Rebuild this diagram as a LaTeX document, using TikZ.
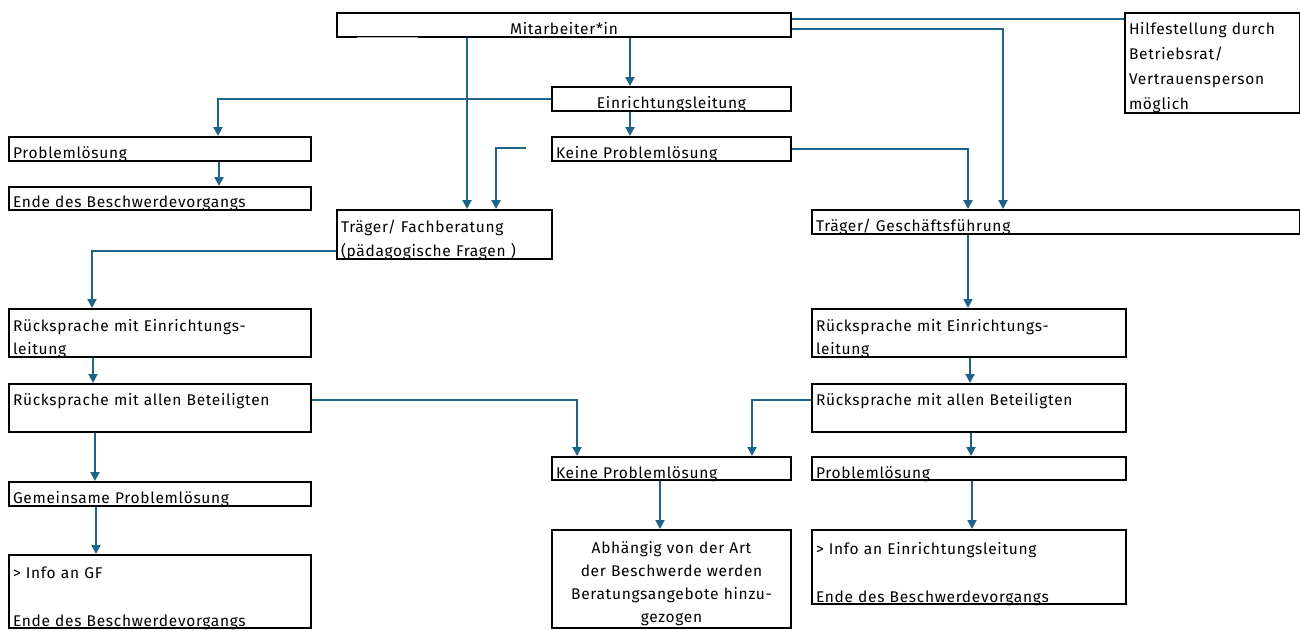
\documentclass[tikz,border=0pt]{standalone}
\usepackage{fontspec}
\usetikzlibrary{arrows.meta,calc}
\newfontfamily\dfont[LetterSpace=4.5]{Fira Sans}
\definecolor{arrowc}{RGB}{30,99,136}
\tikzset{
  bx/.style={draw=black, line width=2pt, fill=white, inner xsep=4pt, inner ysep=0pt,
    anchor=north west, align=left, text height=21pt, text depth=3pt},
  fs/.style={font=\dfont\fontsize{15.5}{#1}\selectfont},
  arr/.style={draw=arrowc, line width=2pt, -{Triangle[width=9pt,length=9pt]}},
  plain/.style={draw=arrowc, line width=2pt},
}
\begin{document}
\begin{tikzpicture}[x=1pt,y=-1pt]
\useasboundingbox (0,0) rectangle (1300,630);
% boxes
\node[bx, fs=24, text width=446pt, align=center, text depth=3pt] (mit) at (336,12) {Mitarbeiter*in};
\node[bx, fs=25, text width=167pt, text depth=79pt] (hilf) at (1124,12) {Hilfestellung durch\\Betriebsrat/\\Vertrauensperson\\möglich};
\node[bx, fs=24, text width=231pt, align=center] (el) at (551,86) {Einrichtungsleitung};
\node[bx, fs=24, text width=294pt] (pl1) at (8,136) {Problemlösung};
\node[bx, fs=24, text width=231pt] (kp1) at (551,136) {Keine Problemlösung};
\node[bx, fs=24, text width=294pt, text height=20pt] (ende1) at (8,186) {Ende des Beschwerdevorgangs};
\node[bx, fs=24, text width=207pt, text height=22pt, text depth=27pt] (tf) at (336,209) {Träger/ Fachberatung\\(pädagogische Fragen )};
\node[bx, fs=24, text width=480pt] (tgf) at (811,209) {Träger/ Geschäftsführung};
\node[bx, fs=23, text width=294pt, text height=22pt, text depth=26pt] (rel1) at (8,308) {Rücksprache mit Einrichtungs-\\leitung};
\node[bx, fs=23, text width=306pt, text height=22pt, text depth=26pt] (rel2) at (811,308) {Rücksprache mit Einrichtungs-\\leitung};
\node[bx, fs=24, text width=294pt, text depth=27pt] (ra1) at (8,383) {Rücksprache mit allen Beteiligten};
\node[bx, fs=24, text width=306pt, text depth=27pt] (ra2) at (811,383) {Rücksprache mit allen Beteiligten};
\node[bx, fs=24, text width=231pt, text depth=2pt] (kp2) at (551,456) {Keine Problemlösung};
\node[bx, fs=24, text width=306pt, text depth=2pt] (pl2) at (811,456) {Problemlösung};
\node[bx, fs=24, text width=294pt] (gem) at (8,481) {Gemeinsame Problemlösung};
\node[bx, fs=24, text width=294pt, text height=23pt, text depth=50pt] (igf) at (8,554) {> Info an GF\\[24pt]Ende des Beschwerdevorgangs};
\node[bx, fs=23.3, text width=231pt, align=center, text height=23pt, text depth=75pt] (abh) at (551,529) {Abhängig von der Art\\der Beschwerde werden\\Beratungsangebote hinzu-\\gezogen};
\node[bx, fs=24, text width=306pt, text height=24pt, text depth=50pt] (iel) at (811,529) {> Info an Einrichtungsleitung\\[24pt]Ende des Beschwerdevorgangs};
% small grey mark under the top box
\draw[gray!60, line width=1.5pt] (357,37.5) -- (418,37.5);
% connectors
\coordinate (free) at (526,148);
\draw[arr] (630,0 |- mit.south) -- (630,0 |- el.north);
\draw[arr] (467,0 |- mit.south) -- (467,0 |- tf.north);
\draw[arr] (el.west) -| (218,0 |- pl1.north);
\draw[arr] (630,0 |- el.south) -- (630,0 |- kp1.north);
\draw[arr] (free) -| (496,0 |- tf.north);
\draw[arr] (kp1.east) -| (968,0 |- tgf.north);
\draw[arr] (mit.east |- 0,29) -| (1003,0 |- tgf.north);
\draw[plain] (mit.east |- 0,19) -- (hilf.west |- 0,19);
\draw[arr] (219,0 |- pl1.south) -- (219,0 |- ende1.north);
\draw[arr] (tf.west |- 0,251) -| (92,0 |- rel1.north);
\draw[arr] (968,0 |- tgf.south) -- (968,0 |- rel2.north);
\draw[arr] (93,0 |- rel1.south) -- (93,0 |- ra1.north);
\draw[arr] (970,0 |- rel2.south) -- (970,0 |- ra2.north);
\draw[arr] (95,0 |- ra1.south) -- (95,0 |- gem.north);
\draw[arr] (ra1.east |- 0,400) -| (577,0 |- kp2.north);
\draw[arr] (ra2.west |- 0,400) -| (752,0 |- kp2.north);
\draw[arr] (971,0 |- ra2.south) -- (971,0 |- pl2.north);
\draw[arr] (96,0 |- gem.south) -- (96,0 |- igf.north);
\draw[arr] (660,0 |- kp2.south) -- (660,0 |- abh.north);
\draw[arr] (972,0 |- pl2.south) -- (972,0 |- iel.north);
\end{tikzpicture}
\end{document}
